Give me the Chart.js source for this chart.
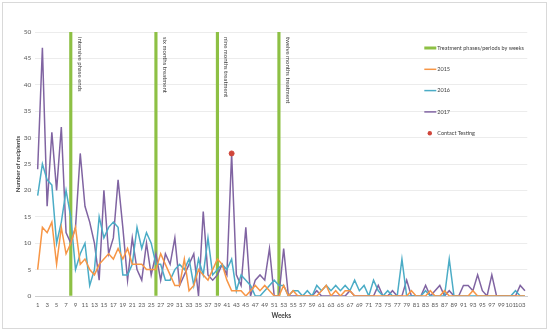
<!DOCTYPE html>
<html><head><meta charset="utf-8">
<script src="https://cdn.jsdelivr.net/npm/chart.js@4.4.1/dist/chart.umd.min.js"></script>
<style>
html,body{margin:0;padding:0;background:#fff;}
#wrap{position:relative;width:550px;height:331px;}
#frame{position:absolute;left:2px;top:2px;width:543px;height:325px;border:1px solid #d9d9d9;pointer-events:none;}
canvas{position:absolute;left:0;top:0;}
</style></head><body>
<div id="wrap"><canvas id="c" width="550" height="331"></canvas><div id="frame"></div></div>
<script>
const weeks = ['1','2','3','4','5','6','7','8','9','10','11','12','13','14','15','16','17','18','19','20',
'21','22','23','24','25','26','27','28','29','30','31','32','33','34','35','36','37','38','39','40',
'41','42','43','44','45','46','47','48','49','50','51','52','53','54','55','56','57','58','59','60',
'61','62','63','64','65','66','67','68','69','70','71','72','73','74','75','76','77','78','79','80',
'81','82','83','84','85','86','87','88','89','90','91','92','93','94','95','96','97','98','99','100',
'101','102','103','104'];

const s2015 = [5,13,12,14,6,13,8,10,13,6, 7,5,4,6,7,8,7,9,7,9, 6,6,6,5,5,5,8,6,4,2,
 2,7,1,2,5,4,3,5,7,6, 3,1,1,1,0,1,2,1,2,1, 0,0,2,0,1,0,0,0,0,0, 1,2,0,1,0,1,1,0,0,0,
 0,0,0,0,0,0,0,0,0,1, 0,0,0,1,0,0,1,0,0,0, 0,0,1,0,0,0,0,0,0,0, 0,0,0,0];
const s2016 = [19,25,22,21,10,14,20,15,5,8, 10,2,5,15,11,13,14,13,4,4, 6,13,9,12,10,6,6,3,3,5,
 6,5,7,2,7,4,11,4,5,6, 5,7,1,4,3,2,0,0,1,2, 3,2,2,0,1,1,0,1,0,2, 1,2,1,2,1,2,1,3,1,2,
 0,3,1,0,1,0,0,7,0,0, 0,0,1,0,0,0,0,7,0,0, 0,0,0,0,0,0,0,0,0,0, 0,1,0,0];
const s2017 = [24,47,17,31,20,32,12,10,13,27, 17,14,10,3,20,8,11,22,13,3, 11,5,3,10,4,8,3,8,6,11,
 2,4,6,8,0,16,4,3,4,6, 4,27,4,2,13,0,3,4,3,9, 0,0,9,0,0,0,0,0,0,1, 0,0,0,0,0,0,1,0,0,0,
 0,0,2,0,0,1,0,0,3,0, 0,0,2,0,1,2,0,1,0,0, 2,2,1,4,1,0,4,0,0,0, 0,0,2,1];

const phaseWeeks = ['8','26','39','52'];
const phaseHeight = [50,50,50,50];
const phaseLabels = ['intensive phase ends','six months treatment','nine months treatment','twelve months treatment'];
const contactWeeks = ['42'];
const contactValues = [27];
const yTicks = [0,5,10,15,20,25,30,35,40,45,50];

const FONT = 'Lato, "Liberation Sans", sans-serif';
const GREEN = '#8DC044', ORANGE = '#F79646', TEAL = '#4BACC6', PURPLE = '#8064A2', RED = '#D0463B';

const phasePlugin = {
  id:'phaseText',
  afterDatasetsDraw(chart){
    const {ctx, chartArea, scales:{x}} = chart;
    ctx.save();
    ctx.font = '6px ' + FONT; ctx.fillStyle = '#404040';
    ctx.textBaseline = 'middle'; ctx.textAlign = 'left';
    phaseWeeks.forEach((w,i)=>{
      const px = x.getPixelForValue(weeks.indexOf(w));
      ctx.save(); ctx.translate(px + 9, chartArea.top + 5); ctx.rotate(Math.PI/2);
      ctx.fillText(phaseLabels[i], 0, 0); ctx.restore();
    });
    ctx.restore();
  }
};

const legendPlugin = {
  id:'customLegend',
  afterDraw(chart){
    const {ctx, chartArea} = chart;
    const x0 = chartArea.right - 103;
    const y0 = chartArea.top + 16;
    const step = 21.3;
    const ds = chart.data.datasets;
    ctx.save();
    ctx.font = '5.5px ' + FONT; ctx.fillStyle = '#404040';
    ctx.textBaseline = 'middle'; ctx.textAlign = 'left';
    ds.forEach((d,i)=>{
      const y = y0 + i*step;
      if (d.type === 'bar') {
        ctx.fillStyle = d.backgroundColor; ctx.fillRect(x0, y-1.5, 12, 3);
      } else if (d.showLine === false) {
        ctx.fillStyle = d.pointBackgroundColor; ctx.beginPath(); ctx.arc(x0+5.5, y, 2.2, 0, Math.PI*2); ctx.fill();
      } else {
        ctx.strokeStyle = d.borderColor; ctx.lineWidth = 1.5; ctx.beginPath(); ctx.moveTo(x0, y); ctx.lineTo(x0+12, y); ctx.stroke();
      }
      ctx.fillStyle = '#404040';
      ctx.fillText(d.label, x0 + 13, y);
    });
    ctx.restore();
  }
};

const lineDs = (label, data, color) => ({
  type:'line', label, data, borderColor: color, backgroundColor: color,
  borderWidth: 1.5, pointRadius: 0, tension: 0, order: 2
});

new Chart(document.getElementById('c'), {
  data: {
    labels: weeks,
    datasets: [
      { type:'bar', label:'Treatment phases/periods by weeks',
        data: phaseWeeks.map((w,i)=>({x:w, y:phaseHeight[i]})),
        backgroundColor: GREEN, barThickness: 2.5, order: 10 },
      lineDs('2015', s2015, ORANGE),
      lineDs('2016', s2016, TEAL),
      lineDs('2017', s2017, PURPLE),
      { type:'line', label:'Contact Testing', showLine:false,
        data: contactWeeks.map((w,i)=>({x:w, y:contactValues[i]})),
        pointRadius: 2.5, pointBackgroundColor: RED, pointBorderColor: RED, borderColor: RED, order: 0 }
    ]
  },
  options: {
    responsive:false, animation:false,
    layout:{ padding:{ left:0, right:22.7, top:32, bottom:0 } },
    plugins:{ legend:{display:false}, tooltip:{enabled:false} },
    scales:{
      x:{
        type:'category', offset:true,
        grid:{ display:false, drawTicks:false },
        border:{ display:true, color:'#d0d0d0' },
        ticks:{ autoSkip:false, maxRotation:0, minRotation:0, padding:5, color:'#595959',
          font:{ size:6, family:FONT },
          callback:(v,i)=> (i % 2 === 0 ? weeks[i] : '') },
        title:{ display:true, text:'Weeks', color:'#404040', font:{ size:6.5, weight:'bold', family:FONT }, padding:{top:0,bottom:11} },
        afterFit:(s)=>{ s.height = 35; }
      },
      y:{
        min:0, max:50,
        afterBuildTicks:(s)=>{ s.ticks = yTicks.map(v=>({value:v})); },
        grid:{ color:'#ececec', drawTicks:false },
        border:{ display:false },
        ticks:{ padding:4, color:'#595959', font:{ size:6.5, family:FONT } },
        title:{ display:true, text:'Number of recipients', color:'#404040', font:{ size:6, weight:'bold', family:FONT }, padding:{top:14,bottom:0} },
        afterFit:(s)=>{ s.width = 35.3; }
      }
    }
  },
  plugins:[phasePlugin, legendPlugin]
});
</script>
</body></html>
